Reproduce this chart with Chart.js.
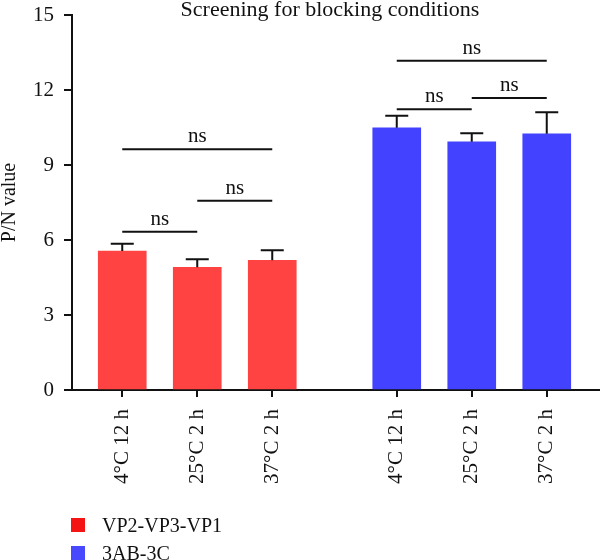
<!DOCTYPE html>
<html>
<head>
<meta charset="utf-8">
<script src="https://cdn.jsdelivr.net/npm/chart.js@4.4.1/dist/chart.umd.min.js"></script>
<style>
  body { margin: 0; background: #fff; }
  #wrap { position: relative; width: 600px; height: 560px; }
  #legend { position: absolute; left: 71px; top: 511px; font-family: 'Liberation Serif', serif; font-size: 20px; color: #111; }
  #legend div { height: 28px; line-height: 28px; display: flex; align-items: center; }
  #legend span.box { width: 14px; height: 14px; margin-right: 17px; display: inline-block; }
</style>
</head>
<body>
<div id="wrap">
  <canvas id="chart" width="600" height="560"></canvas>
  <div id="legend"></div>
</div>
<script>
const categories = ['4°C 12 h', '25°C 2 h', '37°C 2 h', '4°C 12 h', '25°C 2 h', '37°C 2 h'];
const seriesNames = ['VP2-VP3-VP1', '3AB-3C'];
const vpValues = [5.56, 4.91, 5.19];
const vpErrors = [0.29, 0.32, 0.40];
const abValues = [10.49, 9.93, 10.25];
const abErrors = [0.48, 0.34, 0.86];
const yTicks = [0, 3, 6, 9, 12, 15];
// [from bar, to bar, height]
const brackets = [
  [0, 2, 9.63], [0, 1, 6.33], [1, 2, 7.57],
  [3, 5, 13.17], [3, 4, 11.23], [4, 5, 11.68]
];

const GROUP_GAP = 0.66;
const FONT = "'Liberation Serif', serif";
const RED = '#ff4343';
const BLUE = '#4343ff';

const xPos = categories.map((c, i) => i + 1 + (i >= 3 ? GROUP_GAP : 0));
const allValues = vpValues.concat(abValues);
const allErrors = vpErrors.concat(abErrors);

const extras = {
  id: 'extras',
  afterDatasetsDraw(chart) {
    const ctx = chart.ctx;
    const x = chart.scales.x, y = chart.scales.y;
    ctx.save();
    ctx.strokeStyle = '#111';
    ctx.lineWidth = 2;
    // error bars (upper only)
    allValues.forEach((v, i) => {
      const px = x.getPixelForValue(xPos[i]);
      const top = y.getPixelForValue(v + allErrors[i]);
      ctx.beginPath();
      ctx.moveTo(px, y.getPixelForValue(v));
      ctx.lineTo(px, top);
      ctx.moveTo(px - 11.5, top);
      ctx.lineTo(px + 11.5, top);
      ctx.stroke();
    });
    // significance brackets
    ctx.fillStyle = '#111';
    ctx.font = '21px ' + FONT;
    ctx.textAlign = 'center';
    ctx.textBaseline = 'alphabetic';
    brackets.forEach(([a, b, h]) => {
      const x1 = x.getPixelForValue(xPos[a]);
      const x2 = x.getPixelForValue(xPos[b]);
      const py = y.getPixelForValue(h);
      ctx.beginPath();
      ctx.moveTo(x1, py);
      ctx.lineTo(x2, py);
      ctx.stroke();
      ctx.fillText('ns', (x1 + x2) / 2, py - 7);
    });
    // title
    ctx.font = '22px ' + FONT;
    ctx.textBaseline = 'middle';
    ctx.fillText('Screening for blocking conditions', 330, 10);
    ctx.restore();
  }
};

new Chart(document.getElementById('chart'), {
  type: 'bar',
  data: {
    datasets: [
      {
        label: seriesNames[0],
        data: vpValues.map((v, i) => ({ x: xPos[i], y: v })),
        backgroundColor: RED
      },
      {
        label: seriesNames[1],
        data: abValues.map((v, i) => ({ x: xPos[i + 3], y: v })),
        backgroundColor: BLUE
      }
    ]
  },
  options: {
    responsive: false,
    animation: false,
    grouped: false,
    barThickness: 48,
    layout: { padding: { top: 15, right: 0, left: 0, bottom: 0 } },
    plugins: { legend: { display: false }, tooltip: { enabled: false } },
    scales: {
      x: {
        type: 'linear',
        offset: false,
        min: 0.33,
        max: 7.37,
        afterBuildTicks: (scale) => { scale.ticks = xPos.map(v => ({ value: v })); },
        afterFit: (scale) => {
          scale.height = 170;
          scale.paddingLeft = 0; scale.paddingRight = 0;
          scale.paddingTop = 0; scale.paddingBottom = 0;
        },
        grid: { offset: false, drawOnChartArea: false, color: '#111', tickLength: 7, lineWidth: 2 },
        border: { color: '#111', width: 2 },
        ticks: {
          minRotation: 90, maxRotation: 90, padding: 12,
          color: '#111', font: { family: FONT, size: 21 },
          callback: (v, i) => categories[i]
        }
      },
      y: {
        min: 0,
        max: 15,
        afterBuildTicks: (scale) => { scale.ticks = yTicks.map(v => ({ value: v })); },
        afterFit: (scale) => {
          scale.width = 72;
          scale.paddingTop = 0; scale.paddingBottom = 0;
          scale.paddingLeft = 0; scale.paddingRight = 0;
        },
        grid: { drawOnChartArea: false, color: '#111', tickLength: 8, lineWidth: 2 },
        border: { color: '#111', width: 2 },
        ticks: { padding: 10, color: '#111', font: { family: FONT, size: 21 } },
        title: {
          display: true, text: 'P/N value', color: '#111',
          font: { family: FONT, size: 20, lineHeight: 1 }, padding: 0
        }
      }
    }
  },
  plugins: [extras]
});

const legendColors = ['#f51414', '#4848ff'];
document.getElementById('legend').innerHTML = seriesNames.map((n, i) =>
  '<div><span class="box" style="background:' + legendColors[i] + '"></span>' + n + '</div>').join('');
</script>
</body>
</html>
